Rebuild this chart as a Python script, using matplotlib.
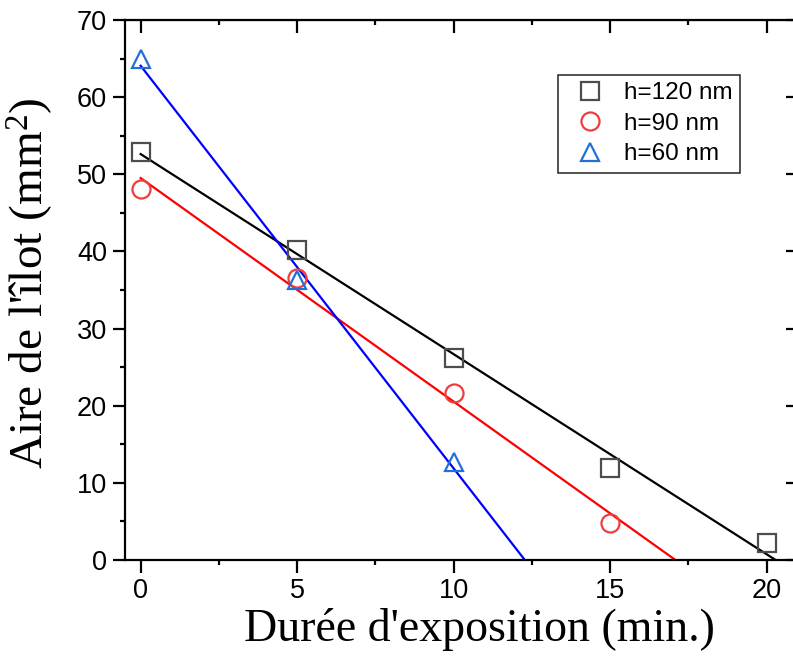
import matplotlib
matplotlib.use("Agg")
import matplotlib.pyplot as plt
import numpy as np
from matplotlib.ticker import MultipleLocator

plt.rcParams["mathtext.fontset"] = "custom"
plt.rcParams["mathtext.rm"] = "Liberation Serif"
plt.rcParams["mathtext.it"] = "Liberation Serif:italic"

# data
x120 = [0, 5, 10, 15, 20]
y120 = [52.9, 40.2, 26.2, 11.9, 2.2]
x90 = [0, 5, 10, 15]
y90 = [48.1, 36.6, 21.6, 4.8]
x60 = [0, 5, 10]
y60 = [64.9, 36.3, 12.7]
labels = ["h=120 nm", "h=90 nm", "h=60 nm"]

fig = plt.figure(figsize=(7.93, 6.67), dpi=100)
ax = fig.add_axes([125 / 793, 107 / 667, 673 / 793, 540 / 667])

series = [
	(x120, y120, "s", "#4d4d4d", "black"),
	(x90, y90, "o", "#f03c3c", "red"),
	(x60, y60, "^", "#2070d8", "blue"),
]

# linear fits, drawn from x=0 down to where they hit y=0
for (xs, ys, m, mc, lc), lab in zip(series, labels):
	a, b = np.polyfit(xs, ys, 1)
	xf = np.linspace(0, -b / a, 50)
	ax.plot(xf, a * xf + b, color=lc, lw=1.6, zorder=2)

for (xs, ys, m, mc, lc), lab in zip(series, labels):
	ax.plot(xs, ys, m, ls="none", ms=13 if m != "s" else 12.5, mfc="none", mec=mc,
		mew=1.6, label=lab, zorder=3)

ax.set_xlim(-0.5, 21)
ax.set_ylim(0, 70)
ax.xaxis.set_major_locator(MultipleLocator(5))
ax.xaxis.set_minor_locator(MultipleLocator(2.5))
ax.yaxis.set_major_locator(MultipleLocator(10))
ax.yaxis.set_minor_locator(MultipleLocator(5))

for s in ax.spines.values():
	s.set_linewidth(1.6)

ax.tick_params(which="both", direction="out", width=1.6, top=False, right=False)
ax.tick_params(which="major", length=9, pad=4)
ax.tick_params(which="minor", length=3.6)
for lab in ax.get_xticklabels() + ax.get_yticklabels():
	lab.set_fontfamily("Liberation Sans")
	lab.set_fontsize(19.5)

# inward ticks on top and right
sx = ax.secondary_xaxis("top")
sx.xaxis.set_major_locator(MultipleLocator(5))
sx.xaxis.set_minor_locator(MultipleLocator(2.5))
sx.tick_params(which="both", direction="in", width=1.6, labeltop=False)
sx.tick_params(which="major", length=9)
sx.tick_params(which="minor", length=3.6)
sy = ax.secondary_yaxis("right")
sy.yaxis.set_major_locator(MultipleLocator(10))
sy.yaxis.set_minor_locator(MultipleLocator(5))
sy.tick_params(which="both", direction="in", width=1.6, labelright=False)
sy.tick_params(which="major", length=9)
sy.tick_params(which="minor", length=3.6)

ax.set_xlabel("Durée d'exposition (min.)", fontfamily="Liberation Serif", fontsize=33)
ax.set_ylabel("Aire de l'îlot (mm$^2$)", fontfamily="Liberation Serif", fontsize=34)
ax.xaxis.set_label_coords(0.527, -0.088)
ax.yaxis.set_label_coords(-0.104, 0.513)

leg = ax.legend(loc="upper left", bbox_to_anchor=(0.6435, 0.898), frameon=True, fancybox=False,
	edgecolor="black", prop={"family": "Liberation Sans", "size": 17.5}, borderpad=0.3,
	handletextpad=0.4, labelspacing=0.35, handlelength=2.0, borderaxespad=0)
leg.get_frame().set_linewidth(1.2)

fig.savefig("out.png", dpi=100)
